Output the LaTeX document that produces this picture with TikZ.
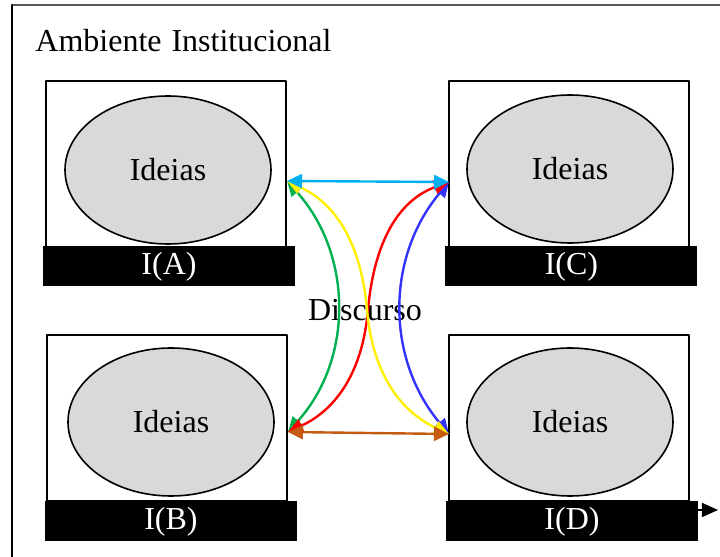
\documentclass[tikz,border=0pt]{standalone}
\usepackage{fontspec}
\setmainfont{Liberation Serif}
\usepackage{xcolor}
\usetikzlibrary{arrows.meta,shapes.geometric}
\definecolor{azul}{RGB}{0,176,240}
\definecolor{verde}{RGB}{0,176,80}
\definecolor{amarelo}{RGB}{255,240,0}
\definecolor{vermelho}{RGB}{255,0,0}
\definecolor{roxo}{RGB}{51,51,255}
\definecolor{marrom}{RGB}{197,90,17}
\definecolor{cinza}{RGB}{217,217,217}

\begin{document}
\begin{tikzpicture}[line cap=round,line join=round,x=0.5pt,y=-0.5pt,
	>={Triangle[length=7.5pt,width=7pt]},
	caixa/.style={draw,line width=1pt,fill=white,minimum width=120pt,minimum height=83pt,inner sep=0pt},
	barra/.style={fill=black,text=white,minimum width=126pt,minimum height=20pt,inner sep=0pt,font=\fontsize{16}{19}\selectfont},
	ideia/.style={ellipse,draw,line width=0.8pt,fill=cinza,minimum width=103pt,minimum height=74pt,inner sep=0pt,font=\fontsize{16}{19}\selectfont},
	seta/.style={line width=1.2pt,<->}]
	\useasboundingbox (0,0) rectangle (720,557);
	% moldura
	\draw [line width=0.8pt,black!65] (12,5)-- (720,5);
	\draw [line width=1pt] (12,5)-- (12,557);
	\node [anchor=base west,inner sep=0pt,font=\fontsize{16}{19}\selectfont] (titulo) at (35,52) {Ambiente\hspace{5pt}Institucional};
	% caixas
	\node [caixa] (caixaA) at (166,164) {};
	\node [caixa] (caixaC) at (569,164) {};
	\node [caixa] (caixaB) at (167,418.5) {};
	\node [caixa] (caixaD) at (569,418.5) {};
	\node [ideia] (ideiaA) at (168,170) {Ideias};
	\node [ideia] (ideiaC) at (570,169) {Ideias};
	\node [ideia] (ideiaB) at (171,422) {Ideias};
	\node [ideia] (ideiaD) at (570,422) {Ideias};
	\node [barra] (barraA) at (169,266.5) {I(A)};
	\node [barra] (barraC) at (571.5,266.5) {I(C)};
	\node [barra] (barraB) at (171,521.5) {I(B)};
	\node [barra] (barraD) at (572,521.5) {I(D)};
	\coordinate (saida) at (718,510);
	\draw [line width=0.8pt,-{Triangle[length=8pt,width=7pt]}] (barraD.east |- saida)-- (saida);
	% discurso
	\coordinate (pA) at (287,181);
	\coordinate (pC) at (449,182);
	\coordinate (pB) at (288,432);
	\coordinate (pD) at (449,434);
	\node [font=\fontsize{16}{19}\selectfont] (discurso) at (365,310) {Discurso};
	\draw [seta,verde] (pA) to[out=-48,in=48] (pB);
	\draw [seta,roxo] (pC) to[out=-130,in=130] (pD);
	\draw [seta,vermelho] (pB) to[out=25,in=-95] (368,310) to[out=85,in=-160] (pC);
	\draw [seta,amarelo] (pA) to[out=-25,in=95] (367,310) to[out=-85,in=155] (pD);
	\draw [seta,azul] (pA)-- (pC);
	\draw [seta,marrom] (pB)-- (pD);
\end{tikzpicture}
\end{document}
